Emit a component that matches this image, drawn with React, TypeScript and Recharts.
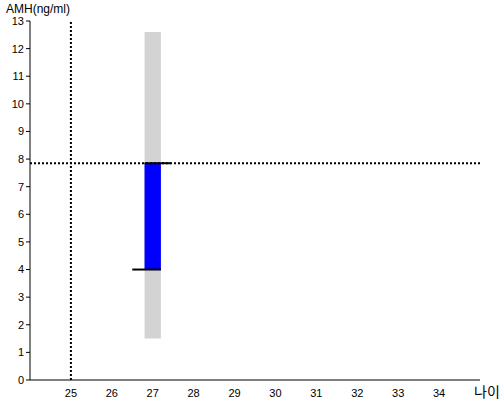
import React from "react";
import {
  ComposedChart,
  XAxis,
  YAxis,
  Scatter,
  ReferenceArea,
  ReferenceLine,
} from "recharts";

// patient age and the measured/normal AMH range
const ageTicks = [25, 26, 27, 28, 29, 30, 31, 32, 33, 34];
const amhTicks = [0, 1, 2, 3, 4, 5, 6, 7, 8, 9, 10, 11, 12, 13];
const ageDomain = [24, 35];
const amhDomain = [0, 13];

const patientAge = 27;
const barHalfWidth = 0.2;
const normalRange = [1.5, 12.6]; // grey band
const amhRange = [4.0, 7.85]; // blue bar
const markerAge = 25; // vertical dotted line
const markerAmh = 7.85; // horizontal dotted line
const upperTick = [26.8, 27.45];
const lowerTick = [26.5, 27.2];

const points = [{ x: patientAge, y: amhRange[0] }];

const tickStyle = { fill: "#000", fontSize: 11, fontFamily: "Liberation Sans, Arial, sans-serif" };

export default function App() {
  return (
    <div style={{ position: "absolute", left: 0, top: 0, width: 500, height: 400, background: "#fff", fontFamily: "Liberation Sans, Arial, sans-serif" }}>
      <ComposedChart
        width={500}
        height={400}
        data={points}
        margin={{ top: 21, right: 20, bottom: 0, left: 0 }}
      >
        <XAxis
          type="number"
          dataKey="x"
          domain={ageDomain}
          ticks={ageTicks}
          allowDataOverflow
          height={20}
          tickLine={false}
          stroke="#000"
          tick={tickStyle}
          tickMargin={3}
        />
        <YAxis
          type="number"
          dataKey="y"
          domain={amhDomain}
          ticks={amhTicks}
          interval={0}
          allowDataOverflow
          width={30}
          stroke="#000"
          tickSize={4}
          tick={tickStyle}
        />
        <ReferenceArea
          x1={patientAge - barHalfWidth}
          x2={patientAge + barHalfWidth}
          y1={normalRange[0]}
          y2={normalRange[1]}
          fill="#d3d3d3"
          fillOpacity={1}
          stroke="none"
        />
        <ReferenceArea
          x1={patientAge - barHalfWidth}
          x2={patientAge + barHalfWidth}
          y1={amhRange[0]}
          y2={amhRange[1]}
          fill="#0000ff"
          fillOpacity={1}
          stroke="none"
        />
        <ReferenceLine x={markerAge} stroke="#000" strokeWidth={2} strokeDasharray="2 2" />
        <ReferenceLine y={markerAmh} stroke="#000" strokeWidth={2} strokeDasharray="2 2" />
        <ReferenceLine
          segment={[
            { x: upperTick[0], y: amhRange[1] },
            { x: upperTick[1], y: amhRange[1] },
          ]}
          stroke="#000"
          strokeWidth={2}
        />
        <ReferenceLine
          segment={[
            { x: lowerTick[0], y: amhRange[0] },
            { x: lowerTick[1], y: amhRange[0] },
          ]}
          stroke="#000"
          strokeWidth={2}
        />
        <Scatter dataKey="y" isAnimationActive={false} shape={() => <g />} />
      </ComposedChart>
      <span style={{ position: "absolute", left: 6, top: 2, fontSize: 12, lineHeight: "14px", color: "#000" }}>AMH(ng/ml)</span>
      <span style={{ position: "absolute", left: 474, top: 384, fontSize: 14, lineHeight: "15px", color: "#000", fontFamily: "Noto Sans CJK KR" }}>나이</span>
    </div>
  );
}
